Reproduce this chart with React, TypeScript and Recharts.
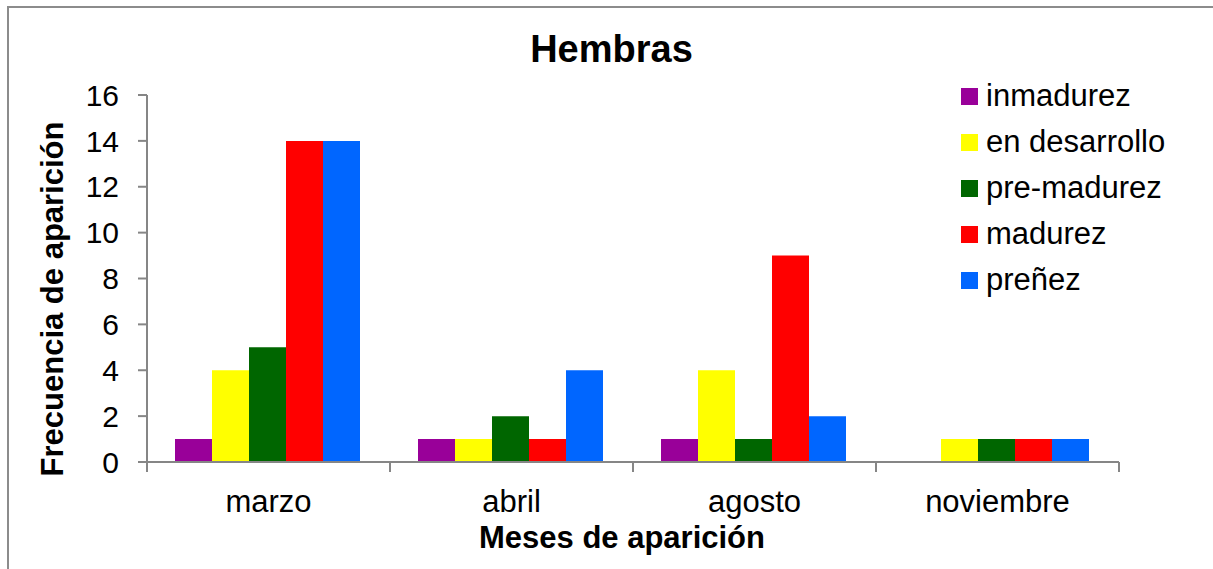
import { BarChart, Bar, XAxis, YAxis, Legend, Label } from "recharts";

const months = ["marzo", "abril", "agosto", "noviembre"];
const inmadurez = [1, 1, 1, 0];
const enDesarrollo = [4, 1, 4, 1];
const preMadurez = [5, 2, 1, 1];
const madurez = [14, 1, 9, 1];
const prenez = [14, 4, 2, 1];
const yTicks = [0, 2, 4, 6, 8, 10, 12, 14, 16];

const series = [
  { key: "inmadurez", name: "inmadurez", color: "#990099" },
  { key: "enDesarrollo", name: "en desarrollo", color: "#FFFF00" },
  { key: "preMadurez", name: "pre-madurez", color: "#006600" },
  { key: "madurez", name: "madurez", color: "#FF0000" },
  { key: "prenez", name: "preñez", color: "#0066FF" },
];

const data = months.map((m, i) => ({
  month: m,
  inmadurez: inmadurez[i],
  enDesarrollo: enDesarrollo[i],
  preMadurez: preMadurez[i],
  madurez: madurez[i],
  prenez: prenez[i],
}));

const FONT = '"Liberation Sans", Arial, sans-serif';
const AXIS = "#868686";
const W = 1213;
const H = 569;
const PLOT_LEFT = 147;
const PLOT_RIGHT = 1119;
const BAND = (PLOT_RIGHT - PLOT_LEFT) / months.length;

function MonthTick(props: any) {
  const { x, y, payload, index } = props;
  const last = index === months.length - 1;
  return (
    <g>
      <line x1={x - BAND / 2} x2={x - BAND / 2} y1={y} y2={y + 10} stroke={AXIS} strokeWidth={2} />
      {last && (
        <line x1={x + BAND / 2} x2={x + BAND / 2} y1={y} y2={y + 10} stroke={AXIS} strokeWidth={2} />
      )}
      <text x={x} y={y + 50} textAnchor="middle" fontSize={31} fill="#000" fontFamily={FONT}>
        {payload.value}
      </text>
    </g>
  );
}

function LegendBox() {
  return (
    <div style={{ fontFamily: FONT, fontSize: 31, color: "#000", textAlign: "left" }}>
      {series.map((s) => (
        <div key={s.key} style={{ display: "flex", alignItems: "center", height: 46, lineHeight: "46px" }}>
          <span style={{ width: 17, height: 17, background: s.color, display: "inline-block", marginRight: 8 }} />
          <span>{s.name}</span>
        </div>
      ))}
    </div>
  );
}

export default function App() {
  return (
    <div style={{ position: "absolute", left: 0, top: 0, width: W, height: H, background: "#fff", overflow: "hidden" }}>
      {/* chart frame, only top and left edges are visible in the crop */}
      <div
        style={{
          position: "absolute",
          left: 7,
          top: 6,
          width: W,
          height: H,
          borderLeft: "2px solid #8c8c8c",
          borderTop: "2px solid #8c8c8c",
        }}
      />
      <div
        style={{
          position: "absolute",
          left: 0,
          top: 30,
          width: 1223,
          textAlign: "center",
          fontFamily: FONT,
          fontWeight: "bold",
          fontSize: 38,
          lineHeight: "38px",
        }}
      >
        Hembras
      </div>
      <div style={{ position: "absolute", left: 0, top: 0 }}>
        <BarChart
          width={W}
          height={H}
          data={data}
          margin={{ top: 95, right: W - PLOT_RIGHT, bottom: 17, left: 47 }}
          barCategoryGap={28}
          barGap={0}
        >
          <XAxis
            dataKey="month"
            height={90}
            axisLine={{ stroke: AXIS, strokeWidth: 2 }}
            tickLine={false}
            tickSize={0}
            tickMargin={0}
            tick={<MonthTick />}
            interval={0}
          >
            <Label
              content={() => (
                <text x={622} y={548} textAnchor="middle" fontSize={31} fontWeight="bold" fontFamily={FONT} fill="#000">
                  Meses de aparición
                </text>
              )}
            />
          </XAxis>
          <YAxis
            width={100}
            domain={[0, 16]}
            ticks={yTicks}
            interval={0}
            axisLine={{ stroke: AXIS, strokeWidth: 2 }}
            tickLine={{ stroke: AXIS, strokeWidth: 2 }}
            tickSize={9}
            tickMargin={19}
            tick={{ fontSize: 30, fill: "#000", fontFamily: FONT }}
          >
            <Label
              content={() => (
                <text
                  x={63}
                  y={299}
                  transform="rotate(-90 63 299)"
                  textAnchor="middle"
                  fontSize={31}
                  fontWeight="bold"
                  fontFamily={FONT}
                  fill="#000"
                >
                  Frecuencia de aparición
                </text>
              )}
            />
          </YAxis>
          <Legend
            layout="vertical"
            align="center"
            verticalAlign="middle"
            content={<LegendBox />}
            wrapperStyle={{ position: "absolute", left: 961, top: 73, width: 240, margin: 0 }}
          />
          {series.map((s) => (
            <Bar key={s.key} dataKey={s.key} name={s.name} fill={s.color} isAnimationActive={false} />
          ))}
        </BarChart>
      </div>
    </div>
  );
}
